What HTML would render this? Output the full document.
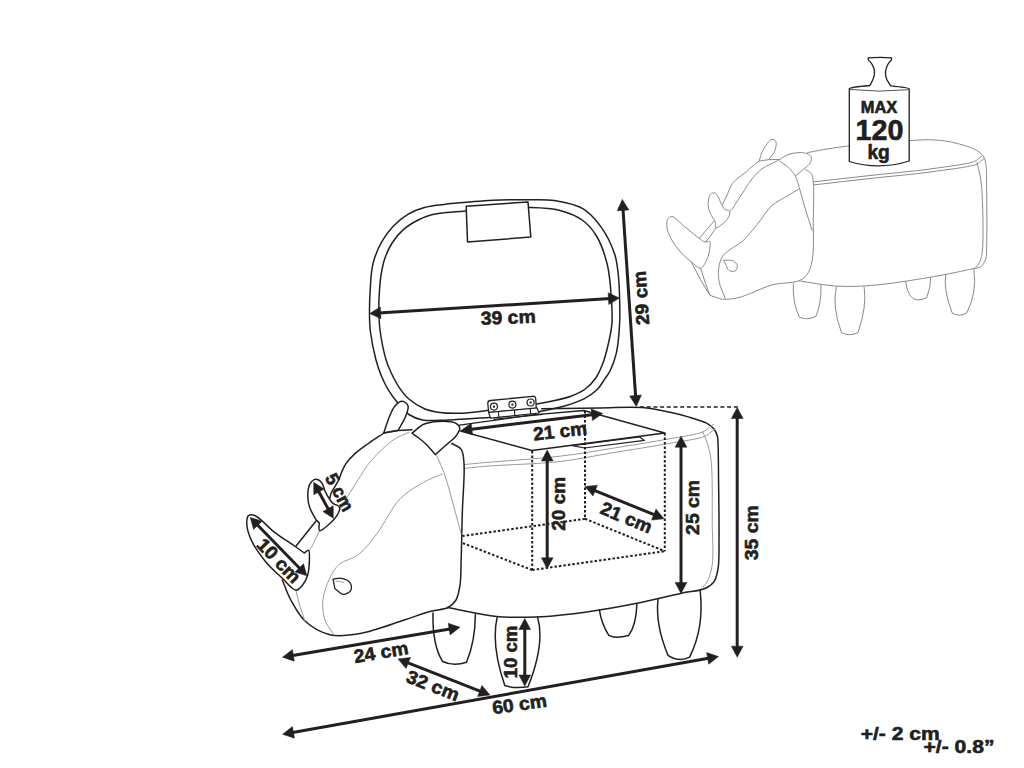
<!DOCTYPE html>
<html><head><meta charset="utf-8"><style>
html,body{margin:0;padding:0;background:#fff;}
body{width:1024px;height:768px;overflow:hidden;}
svg{display:block;}
.k{fill:none;stroke:#231f20;stroke-width:1.5;stroke-linejoin:round;stroke-linecap:round;}
.kw{fill:#fff;stroke:#231f20;stroke-width:1.5;stroke-linejoin:round;}
.g{fill:none;stroke:#9a9a9a;stroke-width:1;}
.t{fill:none;stroke:#8a8a8a;stroke-width:1;stroke-linejoin:round;}
.tw{fill:#fff;stroke:#8a8a8a;stroke-width:1;stroke-linejoin:round;}
.w{fill:#fff;stroke:none;}
.d{fill:none;stroke:#231f20;stroke-width:2;stroke-dasharray:2.5 2;}
.ar{fill:none;stroke:#231f20;stroke-linecap:butt;}
.ah{fill:#231f20;stroke:#231f20;stroke-width:0.5;stroke-linejoin:miter;}
text{font-family:"Liberation Sans",sans-serif;font-weight:bold;fill:#231f20;text-anchor:middle;stroke:#231f20;stroke-width:0.6;stroke-linejoin:round;}
</style></head><body>
<svg width="1024" height="768" viewBox="0 0 1024 768">
<path class="t" d="M807 152.7C814.7 151.3 821.3 149.8 830 148.5C841.5 146.7 856.7 144.8 870 143.5C883.2 142.2 898.4 141.2 909.4 140.6C917.4 140.2 923.2 139.6 930 139.8C936.6 140 942.6 140.3 949.5 141.7C957.5 143.3 969 146.5 974.9 149.5C978.5 151.3 980.9 153 982.7 155.4C984.4 157.6 985 159.8 985.7 163.2C986.9 169.2 986.4 178.4 986.6 188.6C986.9 204.1 987.1 235.1 986.6 247.2C986.4 252.6 986.8 255.5 985.7 258.9C984.7 261.9 983 265.1 980.8 266.7C978.7 268.2 976.6 267.9 973 268.7C964.7 270.6 947.2 274.3 932.2 276.9C914 280 889.3 284 871.6 285.4C858 286.5 847.4 286.8 835.3 286C823.1 285.2 810.9 282.5 798.8 280.8"/>
<path class="t" d="M813.3 181.9C832.2 179.8 850.8 177.6 870 175.5C889.7 173.3 911.5 171.6 930 169C946.1 166.7 968.2 164.1 974.9 161.2C977.1 160.3 977.6 159.2 978.8 158.3C979.9 157.4 980.9 156.6 982 155.8"/>
<path class="t" d="M813.3 185C832.2 182.8 850.8 180.6 870 178.5C889.7 176.3 911.3 174.6 930 172C946.6 169.7 970.2 167 976.9 164.2C978.9 163.3 979.3 162.4 980.5 161.5C981.7 160.5 982.8 159.5 984 158.5"/>
<path class="t" d="M976.9 162.2C977.9 166.5 979.2 170.6 980 175C980.8 179.4 981.3 182.5 981.8 188.6C982.7 201.3 983.6 235.2 982.7 247.2C982.3 252.6 981.9 255.5 980.8 258.9C979.8 261.8 978.4 265.1 976.9 266.7C976 267.7 975 267.9 974 268.5"/>
<path class="t" d="M793.3 283.5Q792.4 303.4 799.5 317.3Q807.7 320.6 815.9 316.3Q821.5 303.4 821 284.5"/>
<path class="t" d="M836.4 286.5Q831.8 306.4 841.5 332.7Q849.7 336.7 857.9 332.7Q867.2 306.4 864.1 286.5"/>
<path class="t" d="M905.5 281.4Q907.5 293.8 912.3 297.8Q917.3 302 926.6 297.8Q930.8 287.7 930.7 277.3"/>
<path class="t" d="M945.7 274.2Q943.2 289.7 952.3 313.2Q959.5 317.2 966.6 313.2Q977.4 292.2 973.8 269.1"/>
<path class="t" d="M805 169.4C807.1 170.8 809.9 171.5 811.2 173.5C812.8 175.8 812.9 178.8 813.3 183C814.2 191 813.4 206 813.3 218.3C813.1 231.6 814.2 249.8 812.3 260C811.1 266.2 809.7 271 807 274.6C804.8 277.5 802.6 279.2 798.8 280.8C792.5 283.4 780 282.7 771.7 285C764.2 287.1 756.9 291 750.8 293.3C746 295.1 742.5 296.7 738 297.7C733.1 298.8 727.3 299.7 722.5 299.2C718.1 298.7 714.2 296.6 710 295.3"/>
<path class="t" d="M759 161.2C756 163.6 752.2 166.4 750 168.3C748.6 169.5 748.2 170.2 746.7 171.5C744.1 173.7 738.3 177.4 735.6 180C733.8 181.7 732.9 182.8 731.7 184.7C730.2 187.1 729.2 190.2 727.8 193.3C726.1 196.9 724.1 201.1 722.3 205"/>
<path class="t" d="M779.7 159.5C778.7 160.1 778 160.5 776.6 161.2C773.5 162.9 766.1 165.6 761.7 169C757.2 172.4 753 177.7 750 181.5C747.8 184.3 746.9 186.5 745 189.4C742.7 192.9 739.6 197.4 737.2 201.1C735 204.4 732.6 209.2 731 210.5C730.4 211 729.9 211 729.4 211.2"/>
<path class="t" d="M759 161.2C760.4 157.3 761.2 153.1 763.3 149.5C765.5 145.8 769.4 139.8 771.9 139.4C773.3 139.2 775.1 140.4 775.8 141.7C776.7 143.5 776 147.5 775 150.3C773.9 153.5 770.8 156.6 768.8 159.7"/>
<path class="t" d="M759 161.2 L768.8 159.6 L779.7 159.5"/>
<path class="t" d="M779.7 159.5C782.8 157.7 785.4 155.3 789 154.2C793.4 152.8 800.7 152.1 804.7 153C807.4 153.6 810.1 154.9 811 156.6C811.8 158.2 811.1 160.9 810.2 162.8C809.2 164.9 806.8 166.4 804.7 168.3C802 170.7 798.4 173.5 795.3 176.1"/>
<path class="t" d="M779.7 161.2C782.3 163.1 785 164.4 787.5 166.7C790.3 169.3 793.3 172.4 795.3 176.1C797.5 180.1 798.5 185 800 190C801.7 195.6 803.1 201.7 805 208C807.1 215.2 809.9 223.2 812.3 230.8"/>
<path class="t" d="M798.8 189C795.3 191.1 792.2 193 788.3 195.4C783.4 198.4 776.7 201.3 771.7 205.8C766.2 210.8 762 218.6 757 224.6C752.2 230.4 747.5 236.9 742.5 241.2C738.4 244.8 733.6 246.9 730 249.6C727.1 251.8 724.4 253.4 722.5 256.2C720.4 259.5 719.1 264.4 718.6 268.8C718 273.2 718.4 278 719.4 282.8C720.5 288.1 723.5 293.7 725.6 299.2"/>
<path class="t" d="M714.5 220.6C712.7 217.2 710.1 213.9 709.1 210.5C708.2 207.4 708 204 708.3 201.1C708.6 198.6 709.3 195.4 710.6 194.1C711.6 193.1 713.4 192.7 714.5 192.9C715.5 193.1 716.1 193.8 716.9 194.8C718.4 196.7 720.1 201.6 721.6 204.2C722.7 206.2 723.3 208.1 724.7 209.3C726 210.4 728.7 210.2 729.4 211.2C730 212.2 729.8 213.8 729.4 215.2C728.9 216.9 727.6 219 726.2 220.6C724.8 222.4 722.6 224.1 720.8 225.3C719.2 226.3 717 228.2 716.1 227.7C715.2 227.2 715.6 224 715.3 222.2Z"/>
<path class="t" d="M699.5 238 L714.5 220.6"/>
<path class="t" d="M705.5 242C707.2 240 708.8 238.2 710.5 236C712.4 233.5 714.2 230.5 716.1 227.7"/>
<path class="t" d="M699 238.3C694.3 234.5 689.6 230.7 685 227C680.5 223.4 674.9 216.5 671.7 216.4C669.9 216.4 668.3 217.8 667.5 219.5C666.3 222 666.6 227 667.8 231.2C669.4 237 674.5 244.7 678.8 250C682.5 254.7 687.3 258.5 691.2 261.7C694.5 264.3 698 268.5 700.6 268C703.2 267.6 705.4 262.7 706.9 259.4C708.6 255.8 709.7 250.2 710 246.9C710.2 244.7 710.6 242.1 709.7 241.4C708.9 240.8 706.8 242.5 705.3 242.2C703.3 241.8 701.1 239.6 699 238.3"/>
<path class="t" d="M691.2 261.7C694.4 267.7 697.4 274 700.6 279.7C703.6 285.1 706.9 290.1 710 295.3"/>
<path class="t" d="M700.6 268C702.2 272.9 703.7 278.1 705.3 282.8C706.8 287.2 708.4 291.1 710 295.3"/>
<path class="t" d="M723.3 260.2C726.7 260.5 731 259.8 733.4 261C735.3 262 737 263.9 737.3 265.6C737.6 267.3 736.4 270.2 735 271C733.6 271.8 730.3 271.4 728.8 270.3C727.1 269.2 726.7 266.1 725.6 264Z"/>
<path d="M849.3 88.8 L849.3 161.5 Q879 170.5 909.2 161 L909.2 89 Q908.8 87.6 890.8 85.9 Q887 80 886.9 79.7 Q884.5 73.4 886.1 68.75 Q888 62.5 891.2 60.5 Q892 58 891.6 57.8 Q880 56.8 868.1 57.8 Q868 59 868.5 60.2 Q872 62.5 874 68.75 Q875.5 73.4 872.8 79.7 Q871 84 869.7 85.5 Q850 87.2 849.3 88.8Z" fill="#fff" stroke="#231f20" stroke-width="1.3" stroke-linejoin="round"/>
<path d="M850 89.5 Q879 92.6 908.5 89.7" fill="none" stroke="#555" stroke-width="1"/>
<text class="lb" x="879" y="113" font-size="16" textLength="36.5" lengthAdjust="spacingAndGlyphs">MAX</text>
<text class="lb" x="879.6" y="140.1" font-size="29.5" textLength="48" lengthAdjust="spacingAndGlyphs">120</text>
<text class="lb" x="878.6" y="158.5" font-size="19.5" textLength="22.4" lengthAdjust="spacingAndGlyphs">kg</text>
<path class="k" d="M422.6 420C417.7 419 413 417.2 408.9 414.5C404.7 411.6 401.2 407.1 397.8 403C394.3 398.8 390.8 393.9 388 389.3C385.4 385 383.4 380.9 381.5 376.3C379.4 371.2 377.7 366.3 376 360C373.8 351.6 371.3 339.1 370.2 330C369.4 322.4 369.5 315.8 369.5 309C369.5 302.5 369.8 296.4 370.2 290C370.6 283.4 370.9 275.7 371.8 270C372.5 265.6 373.1 262.7 374.4 258.6C376.1 253.5 378.6 247.2 381.7 241.9C384.9 236.4 388.8 230.9 393.2 226.3C397.5 221.7 402.5 217.5 407.8 214.3C412.9 211.2 418.5 209.1 424.4 207.5C430.6 205.8 437.2 205.3 444 204.4C451.2 203.5 458.6 203 466.4 202.3C474.8 201.6 483.3 200.6 492.7 200.2C503.6 199.7 517 199.6 527.9 199.7C537.3 199.8 545.4 199.1 554.3 200.5C563.7 202 574.8 204 582.8 208.7C590.2 213.1 595.8 219.7 601 226.9C606.6 234.7 611.8 245.6 614.7 254.2C617.1 261.5 617.5 267.8 618.3 275C619.2 282.6 619.4 290.5 619.6 298.5C619.8 306.8 620.1 315.2 619.6 323.9C619.1 333.2 618.3 344.4 616.4 352.8C614.8 359.7 612.3 366.3 610 371C608.4 374.2 606.9 375.9 605 378.7C602.7 382.1 600.3 386.4 597 389.7C593.4 393.2 589 396.2 584 398.8C578.3 401.8 571.1 404 564.5 406C558.1 407.9 551.1 409.3 545 410.5C539.7 411.6 536.2 412.1 530 413C520.2 414.4 504 416.2 491.8 417.3C480.6 418.3 468.9 418.8 459.5 419.3C452.2 419.7 446.3 420.2 440 420.3C434 420.4 428 421.1 422.6 420Z"/>
<path class="k" d="M460 413.3C452.3 413.5 444.4 413.2 438 412.2C432.9 411.4 429 410.7 424.5 408.8C419.3 406.6 413.3 402.8 408.9 399C404.9 395.5 402 391.6 399.1 387.3C396.1 382.9 393.5 377.7 391.3 373C389.2 368.6 387.7 365.3 386.1 360C383.8 352.1 381.2 339.1 380 330C379 322.4 378.9 315.8 378.8 309C378.7 302.5 379.1 296.1 379.5 290C379.9 284.4 380.3 279.3 381.2 274C382.1 268.8 383 263.7 384.8 258.6C386.6 253.3 389 247.8 392.1 243C395.2 238.1 399.2 233.2 403.6 229.4C407.9 225.6 413.3 222.5 418.2 220C422.7 217.7 427.2 216 431.7 214.8C435.8 213.7 439.3 213.3 444 212.8C450.2 212 456.4 211.7 465.5 211.1C481.3 210.1 513.1 207.2 530.5 207.6C542.3 207.9 551 208.1 560 210.5C568.3 212.7 576.6 215.9 582.8 220.5C588.5 224.7 592.7 229.6 596.5 236C601.2 243.8 604.9 254.9 607.4 265C609.9 275.4 610.6 287.5 611.3 297.8C611.9 307 612.6 315.4 611.9 323.9C611.2 332.2 609.1 340.9 607.3 348.2C605.8 354.4 604.3 359.8 602.2 365C600.4 369.7 598.5 374 595.8 378C592.9 382.1 589.4 386 585.3 389C581.1 392.1 576.6 394.1 571 396.2C563.7 398.8 555.4 400.4 545 402.4C529.5 405.3 502.7 408.6 487 410.5C476.3 411.8 468.5 413.1 460 413.3Z"/>
<path class="kw" d="M466.2 206.2 L528 202 L530.8 237 L467.5 242Z"/>
<path class="k" d="M433 613Q432.2 644.8 442.6 661.5Q453.8 666.7 466.5 662.2Q475.1 641.7 475.4 614.4"/>
<path class="k" d="M497.2 617.1Q490.8 644.5 504.8 685.5Q515 688.9 528 686.8Q545.2 643.8 537.6 617.1"/>
<path class="k" d="M599.4 610.2Q601.7 624.6 608.8 635.4Q615.3 638.9 628.7 635.4Q636.2 625.4 636.9 603.8"/>
<path class="k" d="M658 599.6Q655.2 624.5 668 655.3Q679.2 662.6 689.6 657.1Q704.3 628 700.2 590.9"/>
<path class="k" d="M541.7 408.8C561.1 408.5 582.2 408.2 600 408C615.1 407.8 629.5 406.6 642 407.6C652.3 408.4 661.7 410.6 670 412.3C676.7 413.7 682.2 415.1 688.2 416.9C694.3 418.7 701.9 420.8 706.5 423.2C709.6 424.9 711.9 426.5 713.8 428.7C715.5 430.8 716.7 433.3 717.4 436C718.2 439 717.9 441.8 718.1 446C718.4 453.1 718.4 463.5 718.5 475C718.7 491.9 719.2 520.6 719 537.8C718.9 549.8 719.4 560.2 718.1 568.3C717.2 573.8 716.3 578.5 713.9 581.9C711.7 584.9 708.9 586.8 705 588.5C699.2 591.1 690.5 591.3 681.4 593.2C668.9 595.9 652 600.2 636.9 603.2C621.5 606.3 606.2 609.1 590 611.4C572.7 613.8 552.6 616.3 536 617C521.9 617.6 510.4 617.7 496.6 616.4C481.1 614.9 463.9 610.5 447.5 607.5"/>
<path class="g" d="M463.5 464.6C471 463.9 476.3 463.4 486 462.5C503.5 460.9 537.7 458.9 560 456.2C578.6 454.1 593.4 451.3 611 448.5C630 445.5 653.2 441.8 670 438.7C682.6 436.4 696 434.8 702.8 431.9C706.3 430.4 707.9 428.3 710 426.9C711.5 425.9 712.7 425.1 714 424.2"/>
<path class="g" d="M463.5 468.5C471 467.8 476.3 467 486 466.2C503.5 464.8 537.7 464.1 560 461.5C578.6 459.4 593.4 455.9 611 453C629.9 449.9 653 446.4 670 443.3C683.1 440.9 697.8 439.3 704.6 436.4C707.8 435.1 709.1 433.4 711 432C712.7 430.8 714 429.7 715.5 428.5"/>
<path class="g" d="M702.8 431.9C704.6 436.6 706.9 441.3 708.3 446C709.6 450.5 710.4 455 711 459.7C711.6 464.6 711.8 468.5 712 475C712.4 486.2 712.2 505.7 712.2 520.8C712.2 535.6 713.8 553.7 712.2 564.9C711.2 572 709.1 578 707.1 581.9C705.9 584.3 704.4 585.3 703 587"/>
<path class="k" d="M459.5 425.2 L530 415.2 L583.9 410.5 L664.8 433 L532 450.5 L460.5 431" style="stroke-width:1.3"/>
<path class="k" d="M572.3 445.7 L639.7 436.9 L644.4 440.4 L584.6 448Z" style="stroke-width:1.2"/>
<path class="d" d="M532.2 451 L532.2 570"/>
<path class="d" d="M585 411 L585 519"/>
<path class="d" d="M664.8 433 L664.8 551"/>
<path class="d" d="M532.2 570 L664.8 551.2"/>
<path class="d" d="M585 518.8 L664.8 551.2"/>
<path class="d" d="M585 518.8 L462.4 536"/>
<path class="d" d="M532.2 570 L462.4 543"/>
<path class="d" d="M640 407 L738.5 407" style="stroke-width:1.6;stroke-dasharray:4 2.7"/>
<path class="kw" d="M490.5 400.5 L532.8 396.3 Q535.5 396 535.7 398.8 L536.3 408.4 L488.7 412.5 L487.8 403.5 Q487.6 400.8 490.5 400.5Z" style="stroke-width:1.3"/>
<path class="kw" d="M488.7 412.5 L537 407.8 L539 413 L490.5 418.2Z" style="stroke-width:1.2"/>
<path class="k" d="M494 419.3 L542.5 414.3" style="stroke-width:1.3"/>
<circle cx="494" cy="406.6" r="3.5" fill="#fff" stroke="#231f20" stroke-width="1.2"/>
<rect x="493" y="405.6" width="2" height="2" fill="#231f20"/>
<circle cx="512.4" cy="404.6" r="3.5" fill="#fff" stroke="#231f20" stroke-width="1.2"/>
<rect x="511.4" y="403.6" width="2" height="2" fill="#231f20"/>
<circle cx="530.6" cy="402.5" r="3.5" fill="#fff" stroke="#231f20" stroke-width="1.2"/>
<rect x="529.6" y="401.5" width="2" height="2" fill="#231f20"/>
<path class="k" d="M498.5 411.7 L498.8 416.7" style="stroke-width:1.1"/>
<path class="k" d="M514.5 410.2 L514.8 415.2" style="stroke-width:1.1"/>
<path class="k" d="M530.3 408.7 L530.6 413.7" style="stroke-width:1.1"/>
<path class="k" d="M383.3 433.5C378.1 437 372.7 440.4 367.7 444C363 447.4 358 450.8 354.2 454.4C350.9 457.5 348 460.6 345.8 463.8C344 466.5 342.9 469.2 341.7 472C340.5 474.8 339.9 477.4 338.5 480.4C336.7 484.2 332.7 489.5 331.2 493C330.3 495.3 330.1 497 329.6 499"/>
<path class="k" d="M451.8 443.5C454.9 445.5 459.1 446.4 461.2 449.4C463.5 452.8 463.5 457.3 464 463.4C464.9 474.4 462.9 494.7 462.4 510.3C461.9 525.9 461.7 543.5 461.2 557.1C460.8 567.7 461.2 577.4 460 585.2C459.1 591 458.3 596.1 456 600C454 603.3 451.5 605.6 448 607.5C443.4 609.9 436.4 609.7 430 611.5C422.3 613.6 414.6 616.7 405 619.8C392.2 623.8 373.6 631.2 360 633.5C349.1 635.4 339.3 636.9 330 634.8C321 632.6 311.6 627 305 621C298.8 615.3 294.7 607.1 290.8 600C287.2 593.4 285.1 586.7 282.3 580"/>
<path class="g" d="M436.6 455.2C439.3 461.8 442.2 467.6 444.8 475.1C448.1 484.6 451.3 497.7 454.2 508C456.7 517.1 458.9 525.1 461.2 533.7"/>
<path class="g" d="M409 432.1C403.8 434.7 398.7 436.2 393.2 440C385.9 445.2 375.9 455.1 370 462C365.6 467.2 363.4 471.6 360 476.8C356.3 482.5 352.2 489 348.5 495C344.9 500.8 341.4 507.4 338.2 512.3C335.7 516.1 333.4 518.8 331 522"/>
<path class="g" d="M319.6 530.1C316.8 536 313.6 543.9 311.1 547.9C309.6 550.2 308.4 551.3 307 553"/>
<path class="g" d="M442.4 474C436.2 476.7 430.1 478.6 423.7 482.2C416.1 486.5 407.5 491.3 400.3 498.6C391.6 507.5 384.6 523.7 376.9 533.7C370.6 541.9 364.9 549.6 358.1 554.8C352.3 559.3 344.2 560 339.4 564.2C335 568 332.3 572.9 329.7 578.3C326.7 584.6 323.6 592.8 322.9 600C322.2 606.7 323 614 325 620C326.8 625.5 330.8 629.8 333.8 634.8"/>
<path class="g" d="M295.9 590.2C296.9 594.5 297.7 598.4 299 603C300.6 608.5 303 615 305 621"/>
<path class="kw" d="M383.7 433.1C385.6 427.6 387.4 421.3 389.5 416.5C391.2 412.5 392.6 408.6 395 406C397 403.8 400 401.2 402.2 401.3C404.3 401.4 407.2 403.6 408 405.7C408.9 408.1 407.2 412 406 415.5C404.4 420 400.9 425.3 398.3 430.2Z"/>
<path class="k" d="M383.7 433.1 L398.3 430.6 L412 429.7"/>
<path class="kw" d="M412 433.2C415.9 430.2 419.3 426.3 423.7 424.3C428.1 422.3 433.3 421.6 438.4 421.4C444 421.2 452.5 421.3 456 423.3C458.1 424.5 459.6 426.3 459.8 428.2C460 430.4 457.9 433.4 456 436C453.5 439.3 448.7 442.6 445.2 445.8C441.9 448.8 438.7 451.7 435.4 454.6C432.5 451.3 429.5 447.7 426.6 444.8C424 442.2 421.4 440 418.8 438C416.5 436.2 414.3 434.8 412 433.2Z"/>
<path class="kw" d="M316 519.7C314 515.9 311.4 512.2 310 508.3C308.7 504.7 307.9 501.1 307.8 497.3C307.7 493.2 308.1 487.7 309.6 484.6C310.7 482.3 312.4 480.3 314.1 479.6C315.5 479 317.4 479.4 318.7 480C320.1 480.7 321.3 482.1 322.3 483.7C323.5 485.6 323.9 488.5 325 491C326.2 493.7 328 496.9 329.6 499.2C330.8 501 331.9 502.6 333.3 503.7C334.6 504.7 336.7 504.6 337.8 505.5C338.7 506.2 339.6 507.1 339.7 508.3C339.9 510.1 338.3 513.2 336.9 515.6C335.2 518.4 332.4 521.3 329.6 523.8C326.7 526.4 321.2 531.4 319.6 530.6C318.3 530 319.3 525.5 319.2 522.9Z"/>
<path class="k" d="M295.9 546.2 L316.2 520.8"/>
<path class="kw" d="M295.9 547C288.6 541.9 280.8 537.1 273.9 531.8C267.3 526.7 260.2 517.5 255.2 515.7C252.6 514.7 249.9 514.5 248.5 515.7C246.9 517 246.7 520.9 246.8 524.2C247 528.9 249.1 535.4 251.8 541.1C254.9 547.8 260.3 555.2 265.4 561.4C270.5 567.6 276.9 573.2 282.3 578.3C287 582.7 292.1 590.1 295.9 590.2C298.5 590.3 300.7 587.4 302.6 585.1C304.8 582.5 306.6 578.8 307.7 575C309 570.5 309.3 564.2 309.4 559.7C309.4 556.2 309.8 551 308.6 550.4C307.7 549.9 305.7 552.1 304.3 553Z"/>
<path class="k" d="M333.1 579.2C335.9 578.9 338.8 577.8 341.6 578.3C344.5 578.8 348.5 580.4 350 582.6C351.4 584.5 351.9 588.3 350.9 590.2C349.8 592.3 345.8 594.5 343.2 594.4C340.5 594.2 337.6 590.5 334.8 588.5Z" style="stroke-width:1.3"/>
<path class="g" d="M336 581 L344 582.5"/>
<path class="ar" style="stroke-width:3" d="M378.5 313 L610.6 298.5"/>
<path class="ah" d="M369.7 313.5 L381 318.7 L380.3 306.9Z"/>
<path class="ah" d="M619.4 298 L608.8 304.6 L608.1 292.8Z"/>
<path class="ar" style="stroke-width:3" d="M622.9 208.2 L635.7 397.7"/>
<path class="ah" d="M622.3 199.4 L617.2 210.8 L628.9 210Z"/>
<path class="ah" d="M636.3 406.5 L629.7 395.9 L641.4 395.1Z"/>
<path class="ar" style="stroke-width:3" d="M469.7 429.4 L594 414.5"/>
<path class="ah" d="M461 430.5 L472.6 435 L471.2 423.3Z"/>
<path class="ah" d="M602.7 413.4 L592.5 420.6 L591.1 408.9Z"/>
<path class="ar" style="stroke-width:3" d="M547.2 458.8 L547.2 560"/>
<path class="ah" d="M547.2 450 L541.4 461 L553.1 461Z"/>
<path class="ah" d="M547.2 568.8 L541.4 557.8 L553.1 557.8Z"/>
<path class="ar" style="stroke-width:3" d="M593.1 489.8 L655.9 515.4"/>
<path class="ah" d="M585 486.5 L593 496.1 L597.4 485.2Z"/>
<path class="ah" d="M664 518.8 L651.6 520.1 L656 509.1Z"/>
<path class="ar" style="stroke-width:3" d="M681 445.1 L681 584.7"/>
<path class="ah" d="M681 436.2 L675.1 447.2 L686.9 447.2Z"/>
<path class="ah" d="M681 593.5 L675.1 582.5 L686.9 582.5Z"/>
<path class="ar" style="stroke-width:3" d="M737.2 416.3 L737.2 648.5"/>
<path class="ah" d="M737.2 407.5 L731.4 418.5 L743.1 418.5Z"/>
<path class="ah" d="M737.2 657.2 L731.4 646.2 L743.1 646.2Z"/>
<path class="ar" style="stroke-width:3" d="M256.3 523.7 L300.8 569.5"/>
<path class="ah" d="M250.2 517.4 L253.6 529.4 L262.1 521.2Z"/>
<path class="ah" d="M306.9 575.8 L295 572 L303.5 563.8Z"/>
<path class="ar" style="stroke-width:3" d="M317.9 490 L329.1 510.6"/>
<path class="ah" d="M313.7 482.3 L313.8 494.8 L324.1 489.1Z"/>
<path class="ah" d="M333.3 518.3 L322.9 511.5 L333.2 505.8Z"/>
<path class="ar" style="stroke-width:3" d="M291.2 655.8 L451.3 628.7"/>
<path class="ah" d="M282.5 657.2 L294.3 661.2 L292.4 649.6Z"/>
<path class="ah" d="M460 627.2 L450.1 634.9 L448.2 623.3Z"/>
<path class="ar" style="stroke-width:3" d="M406.2 662.2 L481.8 691.8"/>
<path class="ah" d="M398 659 L406.1 668.5 L410.4 657.5Z"/>
<path class="ah" d="M490 695 L477.6 696.5 L481.9 685.5Z"/>
<path class="ar" style="stroke-width:3" d="M291.3 732.8 L709.8 658"/>
<path class="ah" d="M282.6 734.3 L294.5 738.2 L292.4 726.6Z"/>
<path class="ah" d="M718.5 656.5 L708.7 664.2 L706.6 652.6Z"/>
<path class="ar" style="stroke-width:3" d="M524.8 627.3 L524.8 677.2"/>
<path class="ah" d="M524.8 618.5 L518.9 629.5 L530.6 629.5Z"/>
<path class="ah" d="M524.8 686 L518.9 675 L530.6 675Z"/>
<text class="lb" x="508.2" y="323.7" font-size="18.5" textLength="55" lengthAdjust="spacingAndGlyphs" transform="rotate(-2 508.2 317.2)">39 cm</text>
<text class="lb" x="641" y="304.5" font-size="18.5" textLength="54" lengthAdjust="spacingAndGlyphs" transform="rotate(-93.9 641 298)">29 cm</text>
<text class="lb" x="560" y="437.5" font-size="18.5" textLength="54" lengthAdjust="spacingAndGlyphs" transform="rotate(-6.5 560 431)">21 cm</text>
<text class="lb" x="558.5" y="510.2" font-size="18.5" textLength="54" lengthAdjust="spacingAndGlyphs" transform="rotate(-90 558.5 503.8)">20 cm</text>
<text class="lb" x="626.5" y="524" font-size="18.5" textLength="54" lengthAdjust="spacingAndGlyphs" transform="rotate(22.6 626.5 517.5)">21 cm</text>
<text class="lb" x="692.5" y="513.9" font-size="18.5" textLength="55" lengthAdjust="spacingAndGlyphs" transform="rotate(-90 692.5 507.4)">25 cm</text>
<text class="lb" x="751.2" y="539.3" font-size="18.5" textLength="55" lengthAdjust="spacingAndGlyphs" transform="rotate(-90 751.2 532.8)">35 cm</text>
<text class="lb" x="279" y="567.1" font-size="18.5" textLength="54" lengthAdjust="spacingAndGlyphs" transform="rotate(45.8 279 560.6)">10 cm</text>
<text class="lb" x="339.7" y="498.7" font-size="18.5" textLength="40" lengthAdjust="spacingAndGlyphs" transform="rotate(61.5 339.7 492.2)">5 cm</text>
<text class="lb" x="381" y="658.5" font-size="18.5" textLength="55" lengthAdjust="spacingAndGlyphs" transform="rotate(-9.6 381 652)">24 cm</text>
<text class="lb" x="433" y="692" font-size="18.5" textLength="55" lengthAdjust="spacingAndGlyphs" transform="rotate(21.4 433 685.5)">32 cm</text>
<text class="lb" x="519.5" y="710.5" font-size="18.5" textLength="55" lengthAdjust="spacingAndGlyphs" transform="rotate(-8 519.5 704)">60 cm</text>
<text class="lb" x="510" y="658.5" font-size="18.5" textLength="53" lengthAdjust="spacingAndGlyphs" transform="rotate(-90 510 652)">10 cm</text>
<text class="lb" x="900.2" y="740.2" font-size="18.5" textLength="79" lengthAdjust="spacingAndGlyphs">+/- 2 cm</text>
<text class="lb" x="959" y="753.1" font-size="18.5" textLength="71" lengthAdjust="spacingAndGlyphs">+/- 0.8&#8221;</text>
</svg>
</body></html>
